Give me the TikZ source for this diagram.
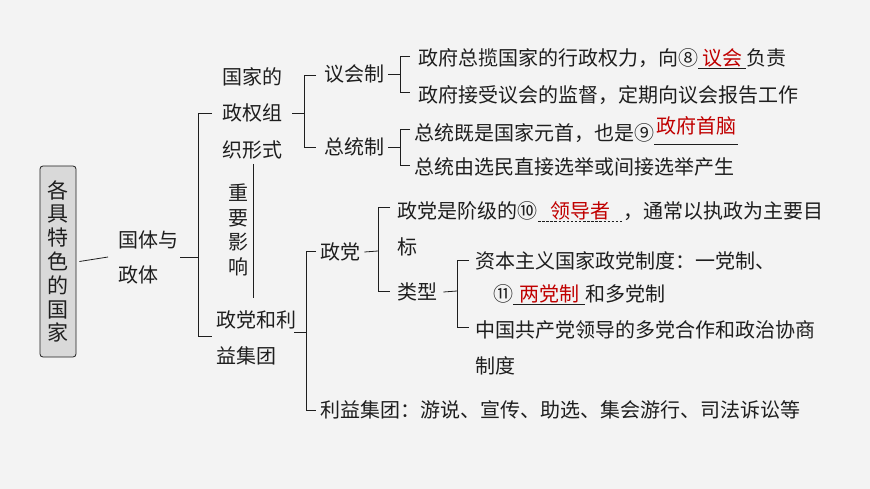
\documentclass[tikz,border=0pt]{standalone}
\usepackage{fontspec}
\setmainfont{Noto Sans CJK SC}
\definecolor{bg}{HTML}{F3F3F3}
\definecolor{ink}{HTML}{1E1E1E}
\definecolor{ansred}{HTML}{C00000}
\definecolor{boxfill}{HTML}{D9D9D9}
\newcommand\ansb[2]{\makebox[#2][c]{\textcolor{ansred}{#1}}\llap{\rule[-3pt]{#2}{0.6pt}}}
\newcommand\ansup[2]{\makebox[#2][c]{\raisebox{7pt}{\textcolor{ansred}{#1}}}\llap{\rule[-4pt]{#2}{0.6pt}}}
\newcommand\ansd[2]{\makebox[#2][c]{\textcolor{ansred}{#1}}\llap{\hbox to #2{\xleaders\hbox to 4pt{\hss\rule[-3pt]{2.5pt}{0.6pt}\hss}\hfill}}}
\begin{document}
\begin{tikzpicture}[x=1pt,y=-1pt,font=\fontsize{20}{22}\selectfont,text=ink,
  t/.style={anchor=west,inner sep=0pt},
  ln/.style={draw=ink,line width=0.8pt}]
\fill[bg] (0,0) rectangle (870,489);
\useasboundingbox (0,0) rectangle (870,489);
% root box
\node[draw=ink,fill=boxfill,rounded corners=3pt,line width=0.8pt,minimum width=36pt,minimum height=191pt,align=center,inner sep=0pt,
  font=\fontsize{21}{23.8}\selectfont] (root) at (58,261.5) {各\\具\\特\\色\\的\\国\\家};
\node[t,align=left,font=\fontsize{20}{35}\selectfont] (gt) at (118,257) {国体与\\政体};
\draw[ln] (root.east) ++(3,0) coordinate (r0) -- (108,257);
\draw[ln] (gt.east) ++(2,0) coordinate (g0) -- (198,257);
\draw[ln] (212,113) -- (198,113) -- (198,336) -- (212,336);
\node[t,align=left,font=\fontsize{20}{36.5}\selectfont] (zq) at (222,113) {国家的\\政权组\\织形式};
\node[align=center,inner sep=0pt,font=\fontsize{20}{24.5}\selectfont] (zy) at (238,230) {重\\要\\影\\响};
\draw[ln] (253,164) -- (253,298);
\node[t,align=left,font=\fontsize{20}{36}\selectfont] (zd) at (216,338) {政党和利\\益集团};
% 国家的政权组织形式 branch
\draw[ln] (292,113) -- (304,113);
\draw[ln] (316,75) -- (304,75) -- (304,147) -- (316,147);
\node[t] (yh) at (324,74) {议会制};
\node[t] (zt) at (324,147) {总统制};
\draw[ln] (yh.east) ++(4,0) -- (400,74);
\draw[ln] (410,56) -- (400,56) -- (400,92) -- (410,92);
\node[t] (a1) at (418,59) {政府总揽国家的行政权力，向⑧\ansb{议会}{2.4em}负责};
\node[t] (a2) at (418,95) {政府接受议会的监督，定期向议会报告工作};
\draw[ln] (zt.east) ++(4,0) -- (400,147);
\draw[ln] (410,129) -- (400,129) -- (400,165) -- (410,165);
\node[t] (b1) at (414,131) {总统既是国家元首，也是⑨\ansup{政府首脑}{4.2em}};
\node[t] (b2) at (414,167) {总统由选民直接选举或间接选举产生};
% 政党和利益集团 branch
\draw[ln] (294,332) -- (306,332);
\draw[ln] (316,251) -- (306,251) -- (306,410) -- (316,410);
\node[t] (zd2) at (320,252) {政党};
\node[t] (ly) at (320,410) {利益集团：游说、宣传、助选、集会游行、司法诉讼等};
\draw[ln] (zd2.east) ++(4,0) -- (378,251);
\draw[ln] (390,207) -- (378,207) -- (378,291) -- (390,291);
\node[t] (c1) at (397,212) {政党是阶级的⑩\ansd{领导者}{4.3em}，通常以执政为主要目};
\node[t] (c2) at (397,247) {标};
\node[t] (lx) at (397,292) {类型};
\draw[ln] (lx.east) ++(6,0) -- (457,291);
\draw[ln] (469,260) -- (457,260) -- (457,327) -- (469,327);
\node[t] (d1) at (475,261) {资本主义国家政党制度：一党制、};
\node[t] (d2) at (493,295) {⑪\ansb{两党制}{3.6em}和多党制};
\node[t] (d3) at (475,330) {中国共产党领导的多党合作和政治协商};
\node[t] (d4) at (475,366) {制度};
\end{tikzpicture}
\end{document}
